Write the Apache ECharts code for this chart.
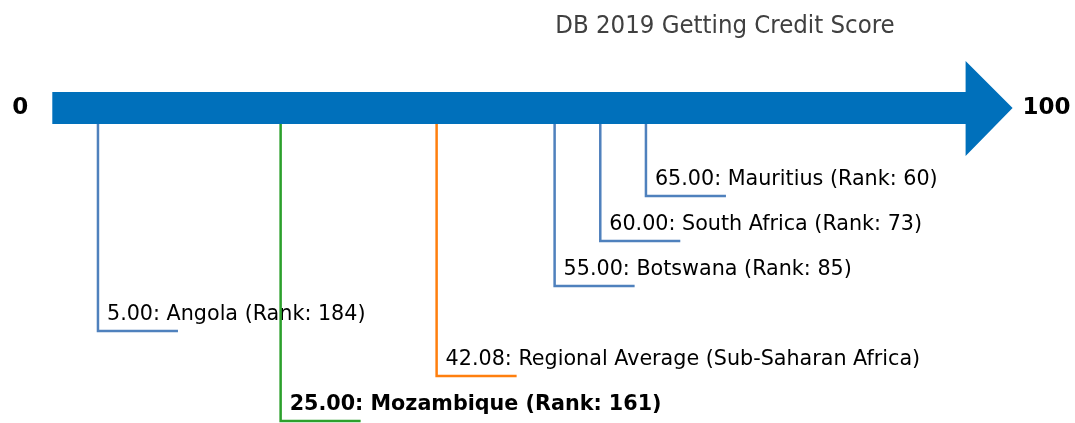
<!DOCTYPE html>
<html>
<head>
<meta charset="utf-8">
<script src="https://cdn.jsdelivr.net/npm/echarts@6/dist/echarts.min.js"></script>
<style>
  html, body { margin: 0; padding: 0; background: #fff; }
  #chart { width: 1075px; height: 423px; }
</style>
</head>
<body>
<div id="chart"></div>
<script>
// scores
var names = ['Angola', 'Mozambique', 'Regional Average', 'Botswana', 'South Africa', 'Mauritius']
var scores = [5.00, 25.00, 42.08, 55.00, 60.00, 65.00]
var ranks = [184, 161, null, 85, 73, 60]
var levels = [4, 6, 5, 3, 2, 1] // how far below the arrow each label sits
var kinds = ['peer', 'focus', 'average', 'peer', 'peer', 'peer']
var axisEnds = ['0', '100']

var colors = { peer: '#4f81bd', focus: '#2ca02c', average: '#ff7f0e' }
var FONT = '"DejaVu Sans", sans-serif'

function labelOf(i) {
  if (kinds[i] === 'average') {
    return scores[i].toFixed(2) + ': ' + names[i] + ' (Sub-Saharan Africa)'
  }
  return scores[i].toFixed(2) + ': ' + names[i] + ' (Rank: ' + ranks[i] + ')'
}

var leaderData = scores.map(function (s, i) { return [s, levels[i], i] })

var chart = echarts.init(document.getElementById('chart'))
chart.setOption({
  animation: false,
  title: {
    text: 'DB 2019 Getting Credit Score',
    left: 720,
    top: 8,
    textAlign: 'center',
    textStyle: { fontFamily: '"DejaVu Sans Condensed", "DejaVu Sans", sans-serif', fontWeight: 'normal', fontSize: 25.5, color: '#404040' }
  },
  grid: { left: 52.3, right: 109.4, top: 61, bottom: 2 },
  xAxis: { type: 'value', min: 0, max: 100, show: false },
  yAxis: { type: 'value', min: -2, max: 6, inverse: true, show: false },
  series: [
    {
      // the arrow itself
      type: 'custom',
      data: [[0, 100]],
      silent: true,
      z: 1,
      renderItem: function (params, api) {
        var p0 = api.coord([api.value(0), -0.956])
        var p1 = api.coord([api.value(1), -0.956])
        var cy = p0[1]
        var head = 47
        return {
          type: 'group',
          children: [
            {
              type: 'polygon',
              shape: {
                points: [
                  [p0[0], cy - 16], [p1[0], cy - 16], [p1[0], cy - 47],
                  [p1[0] + head, cy], [p1[0], cy + 48], [p1[0], cy + 16], [p0[0], cy + 16]
                ]
              },
              style: { fill: '#0070bb' }
            },
            {
              type: 'text',
              style: {
                text: axisEnds[0], x: p0[0] - 32, y: cy, align: 'center', verticalAlign: 'middle',
                font: 'bold 23px ' + FONT, fill: '#000'
              }
            },
            {
              type: 'text',
              style: {
                text: axisEnds[1], x: p1[0] + head + 10, y: cy, align: 'left', verticalAlign: 'middle',
                font: 'bold 23px ' + FONT, fill: '#000'
              }
            }
          ]
        }
      }
    },
    {
      // leader lines with labels
      type: 'custom',
      data: leaderData,
      silent: true,
      z: 2,
      renderItem: function (params, api) {
        var i = api.value(2)
        var top = api.coord([api.value(0), -0.6])
        var end = api.coord([api.value(0), api.value(1)])
        var tail = api.coord([api.value(0) + 8.76, api.value(1)])
        var col = colors[kinds[i]]
        var bold = kinds[i] === 'focus'
        return {
          type: 'group',
          children: [
            {
              type: 'polyline',
              shape: { points: [top, end, tail] },
              style: { stroke: col, lineWidth: 2.5, fill: null }
            },
            {
              type: 'text',
              style: {
                text: labelOf(i), x: end[0] + 9, y: end[1] - 16.5, align: 'left', verticalAlign: 'middle',
                font: (bold ? 'bold ' : '') + '20.7px ' + FONT, fill: '#000'
              }
            }
          ]
        }
      }
    }
  ]
})
</script>
</body>
</html>
